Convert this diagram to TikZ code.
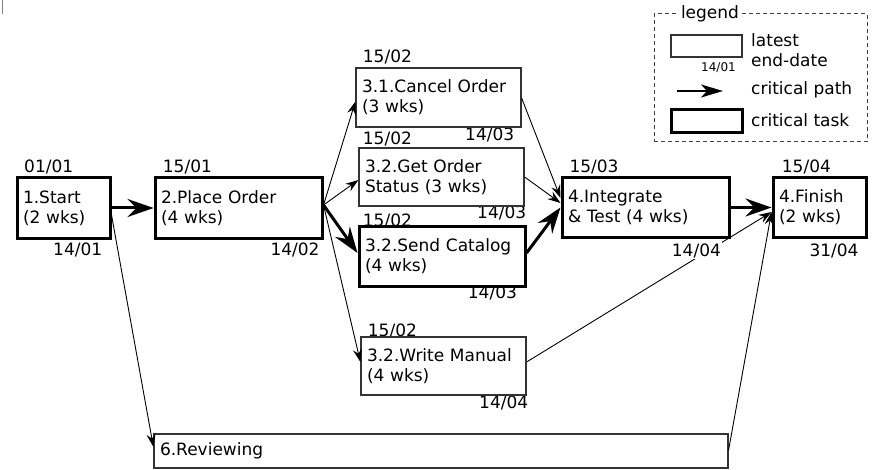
\documentclass[tikz,border=0pt]{standalone}
\usepackage{fontspec}
\setmainfont{DejaVu Sans}
\usetikzlibrary{arrows.meta,calc}
\pgfdeclarelayer{background}
\pgfsetlayers{background,main}
\begin{document}
\begin{tikzpicture}[x=1pt,y=-1pt,
  every node/.style={font=\fontsize{17}{20}\selectfont},
  task/.style={draw=black!80, line width=1.2pt, fill=white, inner sep=0pt, align=left, anchor=center},
  crit/.style={task, draw=black, line width=3pt},
  date/.style={fill=white, inner sep=1pt, anchor=base west},
  thinarrow/.style={line width=0.9pt, -{Stealth[length=13pt,width=9pt,inset=4.5pt]}},
  critarrow/.style={line width=3pt, -{Stealth[length=26pt,width=18pt,inset=9pt]}},
  legtext/.style={anchor=base west, inner sep=0pt},
]
\useasboundingbox (0,0) rectangle (874,470);
\draw[black!50, line width=1pt] (2,0) -- (2,14);

% date labels (drawn first, boxes may cover them)
\node[date] (d1a) at (23,172.7) {01/01};
\node[date] (d1b) at (52,255) {14/01};
\node[date] (d2a) at (161.7,172.3) {15/01};
\node[date] (d2b) at (269.3,255) {14/02};
\node[date] (d31a) at (361.7,63) {15/02};
\node[date] (d31b) at (464,140.7) {14/03};
\node[date] (d32a) at (361.7,145) {15/02};
\node[date] (d32b) at (476,218.3) {14/03};
\node[date] (d33a) at (361.7,226.7) {15/02};
\node[date] (d33b) at (466.7,298.3) {14/03};
\node[date] (d34a) at (366.7,336.7) {15/02};
\node[date] (d34b) at (478,408) {14/04};
\node[date] (d4a) at (568.3,172.7) {15/03};
\node[date] (d5a) at (780.7,172.7) {15/04};
\node[date] (d5b) at (808.3,256) {31/04};

% task boxes
\node[crit, minimum width=93pt, minimum height=60pt, text width=81pt] (start) at (63.5,208) {1.Start\\(2 wks)};
\node[crit, minimum width=167pt, minimum height=60pt, text width=155pt] (po) at (238.5,208) {2.Place Order\\(4 wks)};
\node[task, minimum width=165pt, minimum height=59pt, text width=153pt] (cancel) at (438.5,97.5) {3.1.Cancel Order\\(3 wks)};
\node[task, minimum width=165pt, minimum height=58pt, text width=153pt] (status) at (441.5,177) {3.2.Get Order\\Status (3 wks)};
\node[crit, minimum width=166pt, minimum height=60pt, text width=154pt] (catalog) at (442,256) {3.2.Send Catalog\\(4 wks)};
\node[task, minimum width=165pt, minimum height=58pt, text width=153pt] (manual) at (443.5,366) {3.2.Write Manual\\(4 wks)};
\node[task, minimum width=574pt, minimum height=34pt, text width=562pt] (review) at (441,451) {6.Reviewing};
\node[crit, minimum width=167pt, minimum height=59pt, text width=155pt] (integ) at (645.5,207.5) {4.Integrate\\\& Test (4 wks)};
\node[crit, minimum width=93pt, minimum height=59pt, text width=81pt] (finish) at (819.5,207.5) {4.Finish\\(2 wks)};
\node[date] (d4b) at (670.7,256) {14/04};

% connector passing behind the integrate box and its label
\begin{pgfonlayer}{background}
\draw[thinarrow] ($(manual.east)+(0,-4)$) -- ($(finish.west)+(0,4.5)$);
\end{pgfonlayer}

% connectors
\draw[critarrow] (start.east) -- (po.west);
\draw[thinarrow] ($(start.east)+(0,7)$) -- ($(review.west)+(0,-4)$);
\draw[thinarrow] ($(review.east)+(0,-1)$) -- ($(finish.west)+(0,4.5)$);
\draw[thinarrow] ($(po.east)+(0,-3)$) -- ($(cancel.west)+(0,4)$);
\draw[thinarrow] ($(po.east)+(0,-3)$) -- ($(status.west)+(0,3)$);
\draw[critarrow] ($(po.east)+(0,-3)$) -- ($(catalog.west)+(0,-3)$);
\draw[thinarrow] ($(po.east)+(0,-3)$) -- ($(manual.west)+(0,-4)$);
\draw[thinarrow] ($(cancel.east)+(0,0.5)$) -- ($(integ.west)+(0,-9.5)$);
\draw[thinarrow] ($(status.east)+(0,0)$) -- ($(integ.west)+(0,-4.5)$);
\draw[critarrow] ($(catalog.east)+(0,-3)$) -- (integ.west);
\draw[critarrow] (integ.east) -- (finish.west);

% legend
\node[draw=black!75, line width=1pt, dash pattern=on 4pt off 3pt, minimum width=213pt, minimum height=128pt, inner sep=0pt] (legbox) at (760.5,78) {};
\node[fill=white, inner sep=2pt, anchor=base] (legtitle) at (710,19) {legend};
\node[task, minimum width=71pt, minimum height=22pt] (legtask) at (706.5,46) {};
\node[anchor=base west, inner sep=0pt, font=\fontsize{12}{14}\selectfont] (legdate) at (701,71.7) {14/01};
\node[legtext] (leglatest) at (751,46.7) {latest};
\node[legtext] (legend2) at (751,66.7) {end-date};
\coordinate (legA) at (677,91);
\coordinate (legB) at (723,91);
\draw[line width=2pt, -{Stealth[length=22pt,width=13pt,inset=6pt]}] (legA) -- (legB);
\node[legtext] (legpath) at (751,95) {critical path};
\node[crit, minimum width=71pt, minimum height=23pt] (legcrit) at (706.5,121.5) {};
\node[legtext] (legtasklabel) at (751,126.7) {critical task};
\end{tikzpicture}
\end{document}
